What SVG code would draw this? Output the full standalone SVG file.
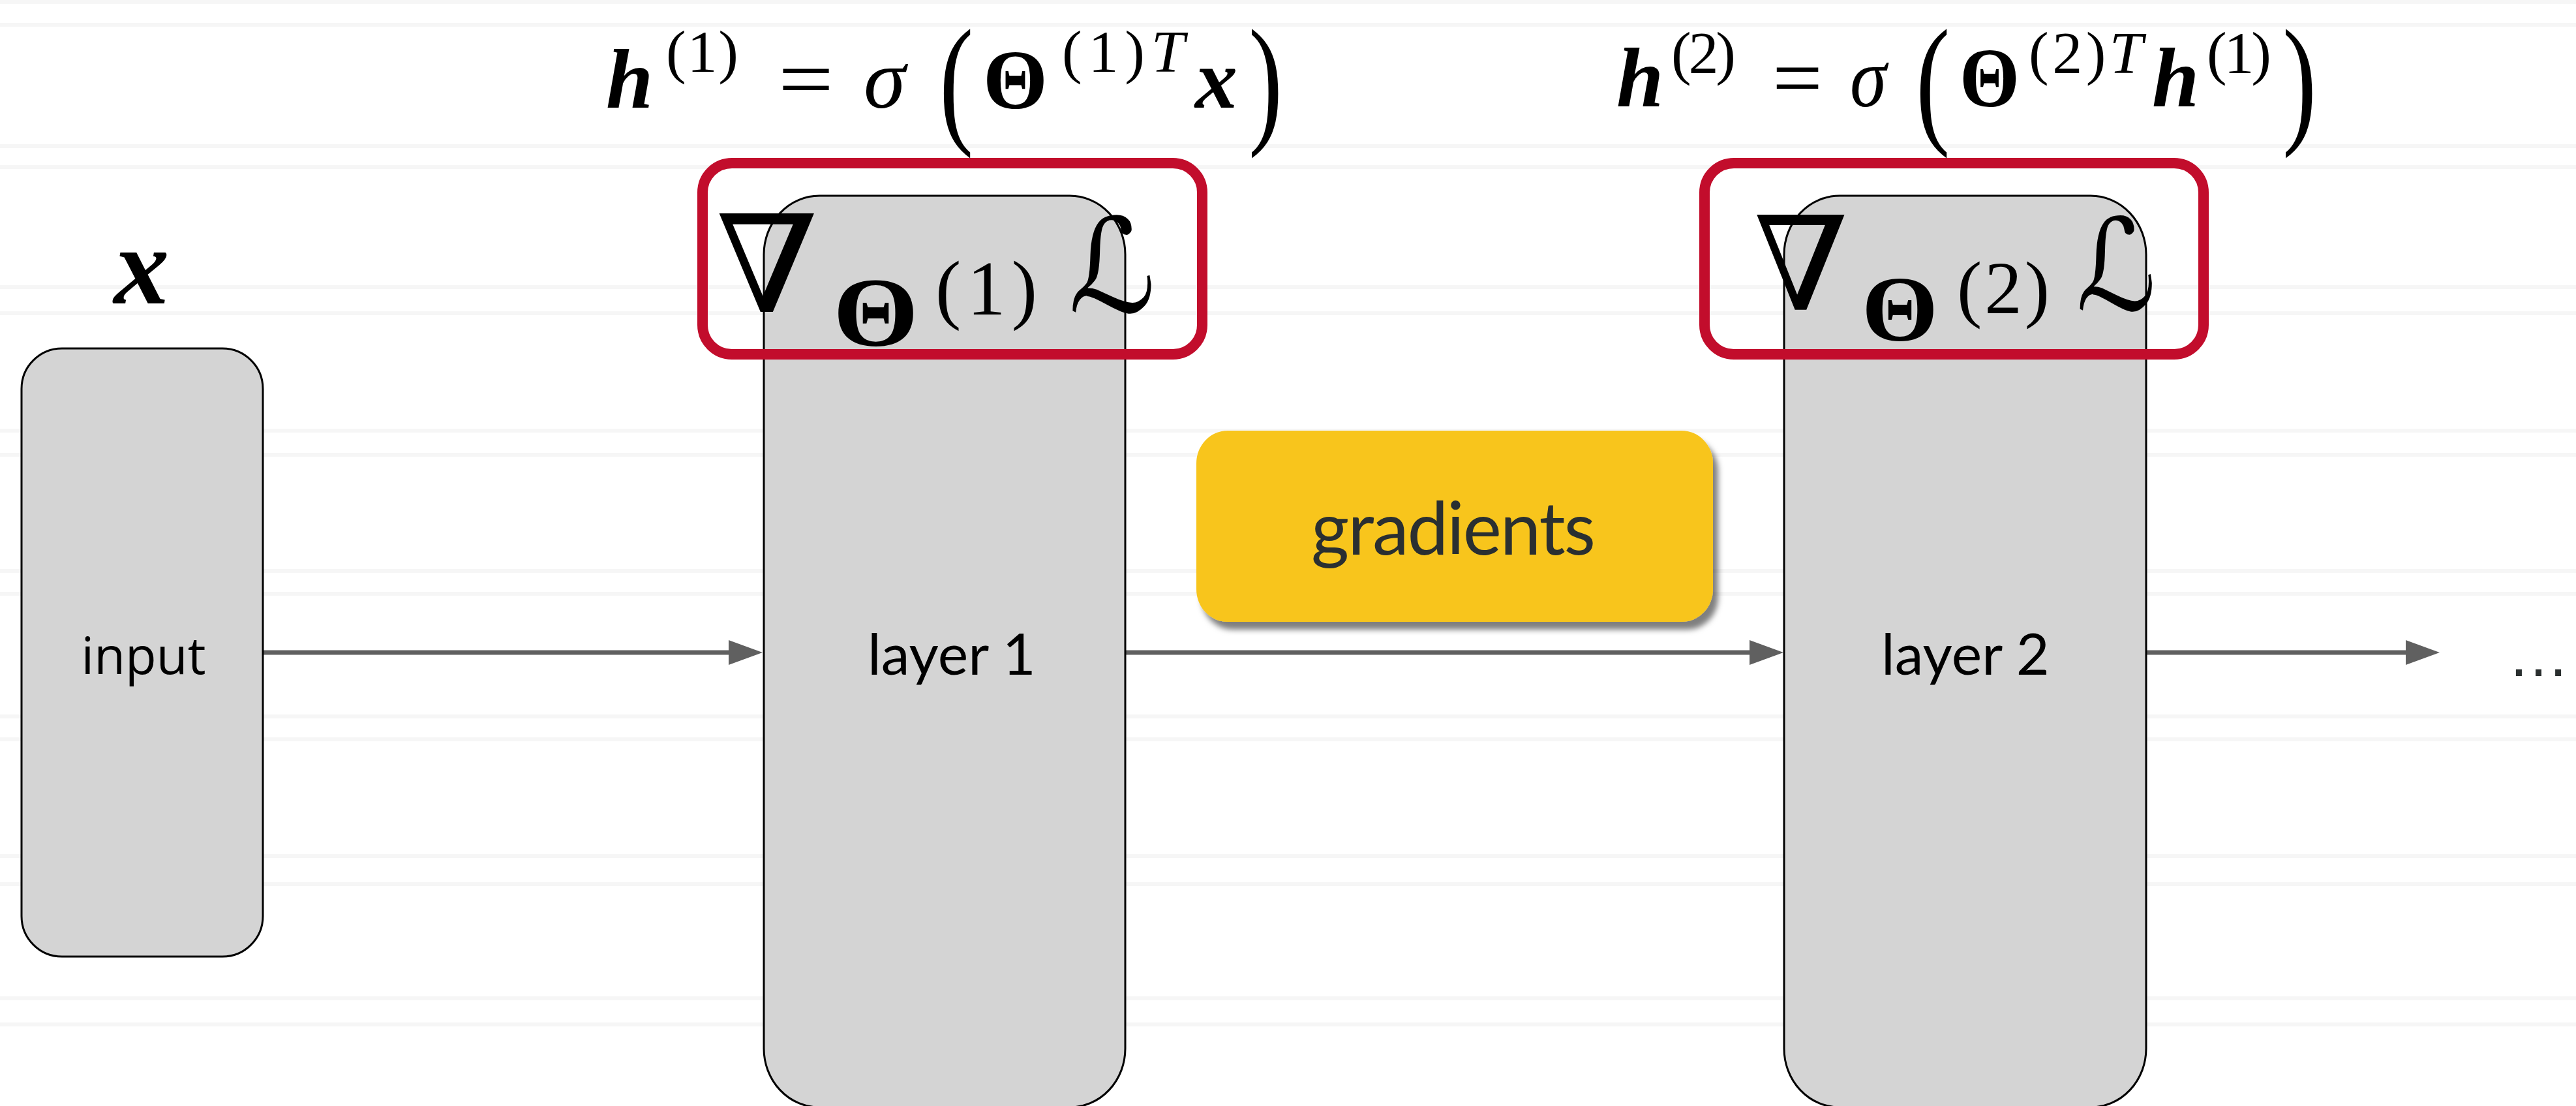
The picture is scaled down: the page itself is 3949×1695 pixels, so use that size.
<svg xmlns="http://www.w3.org/2000/svg" width="3949" height="1695" viewBox="0 0 3949 1695">
  <style>
    .bgline { stroke: #f6f6f6; stroke-width: 6; }
    .box { fill: #d4d4d4; stroke: #000; stroke-width: 3; }
    .red { fill: none; stroke: #c20d2c; stroke-width: 16; }
    .conn { stroke: #606060; stroke-width: 7; fill: none; }
    .math { font-family: "Liberation Serif", "DejaVu Serif", serif; fill: #000; }
    .sym { font-family: "DejaVu Serif", "DejaVu Sans", serif; fill: #000; }
    .bi { font-weight: bold; font-style: italic; }
    .it { font-style: italic; }
    .b { font-weight: bold; }
    .gill { font-family: Lato, "Open Sans", "Liberation Sans", sans-serif; }
  </style>
  <defs>
    <marker id="ah" markerUnits="userSpaceOnUse" markerWidth="52" markerHeight="38" refX="12" refY="19" orient="auto">
      <path d="M0,0 L52,19 L0,38 Z" fill="#606060"/>
    </marker>
    <filter id="shadow" x="-10%" y="-10%" width="130%" height="140%">
      <feDropShadow dx="8" dy="12" stdDeviation="4" flood-color="#000" flood-opacity="0.5"/>
    </filter>
  </defs>
  <rect x="0" y="0" width="3949" height="1695" fill="#fff"/>
  <g id="background">
    <line class="bgline" x1="0" y1="3" x2="3949" y2="3"/>
    <line class="bgline" x1="0" y1="38" x2="3949" y2="38"/>
    <line class="bgline" x1="0" y1="224" x2="3949" y2="224"/>
    <line class="bgline" x1="0" y1="256" x2="3949" y2="256"/>
    <line class="bgline" x1="0" y1="440" x2="3949" y2="440"/>
    <line class="bgline" x1="0" y1="480" x2="3949" y2="480"/>
    <line class="bgline" x1="0" y1="660" x2="3949" y2="660"/>
    <line class="bgline" x1="0" y1="697" x2="3949" y2="697"/>
    <line class="bgline" x1="0" y1="875" x2="3949" y2="875"/>
    <line class="bgline" x1="0" y1="910" x2="3949" y2="910"/>
    <line class="bgline" x1="0" y1="1098" x2="3949" y2="1098"/>
    <line class="bgline" x1="0" y1="1133" x2="3949" y2="1133"/>
    <line class="bgline" x1="0" y1="1312" x2="3949" y2="1312"/>
    <line class="bgline" x1="0" y1="1355" x2="3949" y2="1355"/>
    <line class="bgline" x1="0" y1="1530" x2="3949" y2="1530"/>
    <line class="bgline" x1="0" y1="1570" x2="3949" y2="1570"/>
  </g>

  <g id="connectors">
    <line class="conn" x1="403" y1="1000" x2="1129" y2="1000" marker-end="url(#ah)"/>
    <line class="conn" x1="1725" y1="1000" x2="2694" y2="1000" marker-end="url(#ah)"/>
    <line class="conn" x1="3290" y1="1000" x2="3700" y2="1000" marker-end="url(#ah)"/>
  </g>

  <g id="input">
    <rect class="box" x="33" y="534" width="370" height="932" rx="62" ry="62"/>
    <text x="220" y="1033" font-family="'Open Sans', 'Noto Sans', sans-serif" font-size="78" text-anchor="middle" fill="#000">input</text>
    <text class="math bi" x="217" y="465" font-size="170" text-anchor="middle">x</text>
  </g>

  <g id="layer1">
    <rect class="box" x="1171" y="300" width="554" height="1397" rx="85" ry="90"/>
    <text class="gill" x="1459" y="1034" font-size="88" text-anchor="middle" fill="#000">layer 1</text>
  </g>

  <g id="layer2">
    <rect class="box" x="2735" y="300" width="555" height="1397" rx="85" ry="90"/>
    <text class="gill" x="3013" y="1034" font-size="88" text-anchor="middle" fill="#000">layer 2</text>
  </g>

  <g id="ellipsis">
    <text x="3844" y="1036" font-family="'Liberation Sans', sans-serif" font-size="95" fill="#2a2f2f">…</text>
  </g>

  <g id="gradients">
    <rect x="1834" y="660" width="792" height="293" rx="48" ry="50" fill="#f8c51c" filter="url(#shadow)"/>
    <text class="gill" x="2228" y="850" font-size="112" text-anchor="middle" textLength="436" fill="#2a2f31">gradients</text>
  </g>

  <g id="grad1">
    <rect class="red" x="1077" y="250" width="766" height="293" rx="45" ry="45"/>
    <text class="sym" x="1097" y="478" font-size="207" textLength="158" lengthAdjust="spacingAndGlyphs">∇</text>
    <text class="math b" x="1277" y="530" font-size="150" textLength="131" lengthAdjust="spacingAndGlyphs">Θ</text>
    <text class="math" x="1434" y="482" font-size="118" textLength="156">(1)</text>
    <text class="sym it" x="1638" y="478" font-size="200" textLength="134" lengthAdjust="spacingAndGlyphs">ℒ</text>
  </g>

  <g id="grad2">
    <rect class="red" x="2613" y="250" width="765" height="293" rx="45" ry="45"/>
    <text class="sym" x="2688" y="475" font-size="200" textLength="146" lengthAdjust="spacingAndGlyphs">∇</text>
    <text class="math b" x="2854" y="522" font-size="142" textLength="117" lengthAdjust="spacingAndGlyphs">Θ</text>
    <text class="math" x="3000" y="480" font-size="115" textLength="142">(2)</text>
    <text class="sym it" x="3183" y="475" font-size="195" textLength="123" lengthAdjust="spacingAndGlyphs">ℒ</text>
  </g>

  <g id="formula1" class="math">
    <text class="bi" x="929" y="165" font-size="130">h</text>
    <text x="1021" y="110" font-size="92" textLength="111">(1)</text>
    <text x="1193" y="165" font-size="130" textLength="85" lengthAdjust="spacingAndGlyphs">=</text>
    <text class="it" x="1324" y="165" font-size="130">σ</text>
    <text transform="translate(1440,196) scale(0.72,1)" font-size="218">(</text>
    <text class="b" x="1507" y="166" font-size="130" textLength="99" lengthAdjust="spacingAndGlyphs">Θ</text>
    <text x="1628" y="110" font-size="92" textLength="188">(1)<tspan class="it">T</tspan></text>
    <text class="bi" x="1832" y="165" font-size="130">x</text>
    <text transform="translate(1914,196) scale(0.72,1)" font-size="218">)</text>
  </g>

  <g id="formula2" class="math">
    <text class="bi" x="2478" y="163" font-size="130">h</text>
    <text x="2562" y="112" font-size="92" textLength="99">(2)</text>
    <text x="2717" y="163" font-size="130" textLength="77" lengthAdjust="spacingAndGlyphs">=</text>
    <text class="it" x="2836" y="163" font-size="130" textLength="56" lengthAdjust="spacingAndGlyphs">σ</text>
    <text transform="translate(2937,196) scale(0.72,1)" font-size="218">(</text>
    <text class="b" x="3004" y="163" font-size="130" textLength="92" lengthAdjust="spacingAndGlyphs">Θ</text>
    <text x="3110" y="112" font-size="92" textLength="175">(2)<tspan class="it">T</tspan></text>
    <text class="bi" x="3299" y="163" font-size="130">h</text>
    <text x="3383" y="112" font-size="92" textLength="99">(1)</text>
    <text transform="translate(3499,196) scale(0.72,1)" font-size="218">)</text>
  </g>
</svg>
